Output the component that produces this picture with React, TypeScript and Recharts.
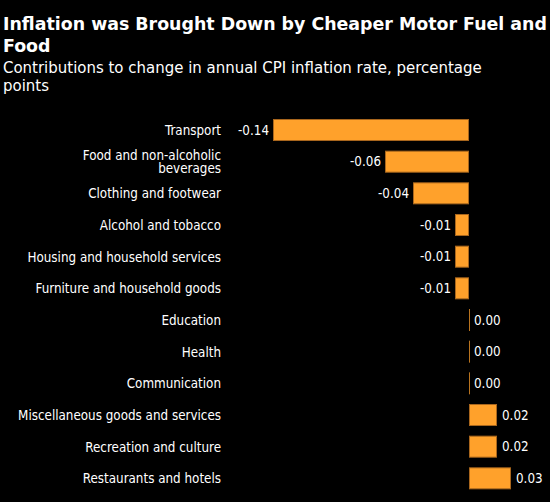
import React from 'react'
import { BarChart, Bar, XAxis, YAxis, LabelList } from 'recharts'

const categories = [
  'Transport',
  'Food and non-alcoholic\nbeverages',
  'Clothing and footwear',
  'Alcohol and tobacco',
  'Housing and household services',
  'Furniture and household goods',
  'Education',
  'Health',
  'Communication',
  'Miscellaneous goods and services',
  'Recreation and culture',
  'Restaurants and hotels',
]
const contributions = [-0.14, -0.06, -0.04, -0.01, -0.01, -0.01, 0, 0, 0, 0.02, 0.02, 0.03]

const data = categories.map((name, i) => ({ name, value: contributions[i] }))

const LABEL_FONT = '"DejaVu Sans Condensed", sans-serif'
const ORANGE = '#ffa12b'
const ORANGE_EDGE = '#a8661d'

// eslint-disable-next-line @typescript-eslint/no-explicit-any
function CategoryTick(props: any) {
  const { y, payload } = props
  const lines: string[] = String(payload.value).split('\n')
  const lh = 13.5
  const y0 = y - ((lines.length - 1) * lh) / 2
  return (
    <text x={221} y={y0} textAnchor="end" fill="#fff" fontSize={13.3} fontFamily={LABEL_FONT} dominantBaseline="central">
      {lines.map((l, i) => (
        <tspan key={i} x={221} dy={i === 0 ? 0 : lh}>{l}</tspan>
      ))}
    </text>
  )
}

// eslint-disable-next-line @typescript-eslint/no-explicit-any
function BarShape(props: any) {
  const { x, y, width, height } = props
  const left = Math.min(x, x + width)
  const w = Math.abs(width)
  if (w < 1) {
    // zero contribution: just a hairline at the baseline
    return <line x1={left + 0.5} x2={left + 0.5} y1={y} y2={y + height} stroke="#b8731f" strokeWidth={1} />
  }
  return (
    <rect x={left + 0.5} y={y + 0.5} width={w - 1} height={height - 1}
      fill={ORANGE} stroke={ORANGE_EDGE} strokeWidth={1} />
  )
}

// eslint-disable-next-line @typescript-eslint/no-explicit-any
function ValueLabel(props: any) {
  const { x, y, width, height, value } = props
  const neg = value < 0
  const tx = neg ? Math.min(x, x + width) - 4 : Math.max(x, x + width) + 5
  return (
    <text x={tx} y={y + height / 2} textAnchor={neg ? 'end' : 'start'} dominantBaseline="central"
      fill="#fff" fontSize={13.3} fontFamily={LABEL_FONT}>
      {value.toFixed(2)}
    </text>
  )
}

export default function App() {
  return (
    <div style={{ position: 'relative', width: 550, height: 502, background: '#000', overflow: 'hidden' }}>
      <style>{'body{margin:0;background:#000}'}</style>
      <div style={{ position: 'absolute', left: 3, top: 13, width: 549, color: '#fff' }}>
        <div style={{ fontFamily: '"DejaVu Sans", sans-serif', fontWeight: 'bold', fontSize: 17.4, lineHeight: '22px' }}>
          Inflation was Brought Down by Cheaper Motor Fuel and Food
        </div>
        <div style={{ fontFamily: LABEL_FONT, fontSize: 16.65, lineHeight: '18px', width: 500, marginTop: 2 }}>
          Contributions to change in annual CPI inflation rate, percentage points
        </div>
      </div>
      <BarChart width={550} height={502} data={data} layout="vertical"
        margin={{ top: 114, right: 39, bottom: 8, left: 0 }} barSize={22}>
        <XAxis type="number" domain={[-0.14, 0.03]} hide allowDataOverflow />
        <YAxis type="category" dataKey="name" width={273} axisLine={false} tickLine={false}
          tick={<CategoryTick />} interval={0} />
        <Bar dataKey="value" shape={<BarShape />} isAnimationActive={false}>
          <LabelList dataKey="value" content={<ValueLabel />} />
        </Bar>
      </BarChart>
    </div>
  )
}
